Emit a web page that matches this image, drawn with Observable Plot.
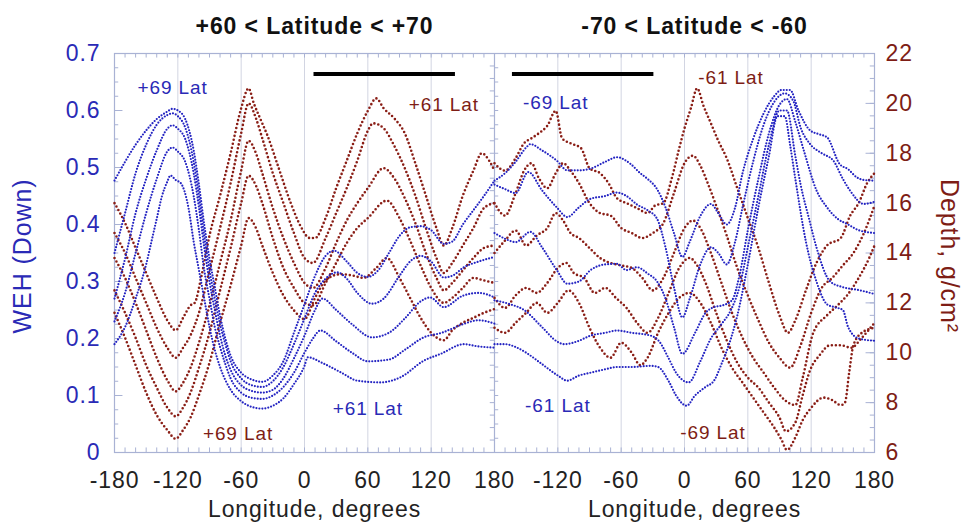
<!DOCTYPE html>
<html>
<head>
<meta charset="utf-8">
<script src="https://cdn.jsdelivr.net/npm/d3@7"></script>
<script src="https://cdn.jsdelivr.net/npm/@observablehq/plot@0.6"></script>
<style>
  html, body { margin: 0; padding: 0; background: #fff; }
  #chart svg text { letter-spacing: 0.9px; }
</style>
</head>
<body>
<div id="chart"></div>
<script>
// ---------- DATA ----------
// Left panel (+60 < Latitude < +70): WEH (blue) as [longitude, WEH]
const n_b69 = [[-180,0.477],[-170,0.51],[-160,0.54],[-150,0.565],[-140,0.585],[-130,0.598],[-125,0.603],[-120,0.600],[-113,0.585],[-105,0.53],[-100,0.47],[-95,0.40],[-90,0.34],[-85,0.29],[-80,0.24],[-75,0.20],[-70,0.17],[-60,0.14],[-50,0.128],[-40,0.124],[-30,0.135],[-20,0.16],[-10,0.21],[0,0.26],[10,0.31],[20,0.345],[28,0.354],[40,0.335],[50,0.315],[60,0.308],[70,0.32],[80,0.35],[90,0.38],[100,0.395],[110,0.397],[120,0.39],[132,0.366],[140,0.37],[150,0.40],[160,0.425],[170,0.45],[180,0.477]];
const n_b67 = [[-180,0.35],[-170,0.42],[-160,0.49],[-150,0.54],[-140,0.575],[-130,0.592],[-125,0.595],[-120,0.59],[-113,0.57],[-105,0.51],[-100,0.45],[-95,0.38],[-90,0.32],[-85,0.27],[-80,0.225],[-75,0.19],[-70,0.16],[-60,0.13],[-50,0.118],[-40,0.115],[-30,0.125],[-20,0.15],[-10,0.19],[0,0.235],[10,0.28],[20,0.305],[31,0.316],[40,0.305],[50,0.28],[64,0.261],[75,0.27],[90,0.31],[100,0.335],[110,0.345],[120,0.335],[132,0.307],[140,0.31],[151,0.325],[165,0.335],[180,0.343]];
const n_b65 = [[-180,0.27],[-170,0.34],[-160,0.42],[-150,0.48],[-140,0.53],[-130,0.568],[-125,0.574],[-120,0.568],[-113,0.55],[-105,0.49],[-100,0.43],[-95,0.36],[-90,0.30],[-85,0.25],[-80,0.205],[-75,0.17],[-70,0.145],[-60,0.118],[-50,0.108],[-40,0.105],[-30,0.11],[-20,0.13],[-10,0.165],[0,0.205],[10,0.25],[17,0.27],[30,0.25],[45,0.225],[64,0.202],[80,0.21],[95,0.235],[110,0.265],[119,0.272],[132,0.255],[150,0.275],[165,0.28],[180,0.272]];
const n_b63 = [[-180,0.23],[-170,0.28],[-160,0.35],[-150,0.42],[-140,0.48],[-130,0.528],[-125,0.535],[-120,0.528],[-113,0.51],[-105,0.45],[-100,0.39],[-95,0.32],[-90,0.27],[-85,0.22],[-80,0.185],[-75,0.155],[-70,0.13],[-60,0.105],[-50,0.096],[-40,0.094],[-30,0.10],[-20,0.115],[-10,0.14],[0,0.175],[8,0.20],[15,0.214],[30,0.195],[45,0.175],[60,0.16],[80,0.163],[95,0.18],[113,0.202],[130,0.21],[150,0.225],[165,0.232],[180,0.226]];
const n_b61 = [[-180,0.19],[-170,0.22],[-160,0.27],[-150,0.33],[-145,0.37],[-140,0.41],[-135,0.45],[-130,0.475],[-127,0.486],[-122,0.478],[-117,0.472],[-110,0.43],[-105,0.37],[-100,0.32],[-95,0.27],[-90,0.22],[-85,0.18],[-80,0.15],[-70,0.11],[-60,0.09],[-50,0.08],[-40,0.077],[-30,0.082],[-20,0.095],[-10,0.12],[0,0.152],[3,0.167],[18,0.156],[35,0.14],[50,0.126],[72,0.123],[91,0.132],[113,0.161],[129,0.173],[151,0.19],[165,0.186],[180,0.184]];

// Left panel: Depth (red) as [longitude, g/cm2]
const n_r61 = [[-180,16.0],[-170,15.2],[-160,14.2],[-150,13.2],[-140,12.2],[-130,11.3],[-122,10.9],[-115,11.4],[-108,11.9],[-104,12.0],[-98,13.0],[-90,14.7],[-80,16.3],[-70,18.0],[-60,19.8],[-53,20.6],[-48,20.0],[-40,19.2],[-35,18.7],[-26,17.6],[-13,16.0],[-4,15.1],[5,14.6],[10,14.6],[20,15.4],[30,16.6],[40,17.7],[50,18.8],[60,19.7],[68,20.2],[75,19.8],[85,19.4],[95,18.8],[105,17.6],[115,16.3],[125,15.0],[132,14.3],[140,15.0],[150,16.3],[160,17.3],[168,18.0],[175,17.7],[180,17.3]];
const n_r63 = [[-180,14.8],[-170,14.0],[-160,13.0],[-150,12.0],[-140,11.0],[-130,10.2],[-122,9.8],[-115,10.2],[-108,10.7],[-100,11.6],[-90,13.3],[-80,15.0],[-70,16.8],[-60,18.8],[-53,20.0],[-46,19.4],[-40,18.6],[-30,17.2],[-20,16.0],[-10,14.8],[0,13.8],[8,13.6],[20,14.6],[30,15.6],[40,16.6],[50,17.7],[60,18.9],[65,19.2],[75,19.0],[85,18.3],[95,17.4],[105,16.3],[115,15.0],[125,13.8],[132,13.2],[140,13.6],[150,14.3],[160,15.0],[170,15.8],[180,16.0]];
const n_r65 = [[-180,13.8],[-170,13.0],[-160,12.0],[-150,10.9],[-140,9.8],[-130,8.9],[-122,8.45],[-115,8.8],[-108,9.4],[-100,10.4],[-90,11.9],[-80,13.6],[-70,15.3],[-60,17.3],[-53,18.5],[-46,18.0],[-40,17.2],[-30,15.8],[-20,14.6],[-10,13.6],[0,12.8],[8,12.6],[20,13.4],[30,14.4],[40,15.3],[50,16.0],[60,16.6],[75,17.4],[85,17.0],[95,16.2],[105,15.2],[115,14.0],[125,13.0],[132,12.5],[140,12.8],[150,13.3],[160,13.8],[170,14.2],[180,14.3]];
const n_r67 = [[-180,12.5],[-170,11.6],[-160,10.6],[-150,9.5],[-140,8.6],[-130,7.8],[-122,7.45],[-115,7.8],[-108,8.4],[-100,9.4],[-90,10.8],[-80,12.5],[-70,14.2],[-60,16.0],[-53,17.1],[-46,16.7],[-40,16.0],[-30,14.6],[-20,13.4],[-10,12.6],[0,12.0],[8,11.9],[20,12.8],[30,13.6],[40,14.4],[50,15.0],[60,15.4],[78,16.1],[90,15.4],[100,14.5],[110,13.5],[120,12.6],[132,12.0],[140,12.2],[150,12.6],[160,13.0],[170,12.9],[180,12.8]];
const n_r69 = [[-180,11.6],[-170,10.6],[-160,9.5],[-150,8.4],[-140,7.5],[-130,6.9],[-122,6.55],[-115,6.9],[-108,7.4],[-100,8.3],[-90,9.6],[-80,11.2],[-70,12.7],[-60,14.3],[-53,15.4],[-46,15.0],[-40,14.3],[-30,13.2],[-20,12.3],[-10,11.7],[0,11.35],[10,12.2],[20,12.9],[34,13.15],[45,13.1],[56,13.0],[68,13.4],[78,13.8],[90,13.0],[100,12.2],[110,11.4],[120,10.8],[132,10.5],[140,10.9],[150,11.2],[160,11.4],[170,11.6],[180,11.75]];

// Right panel (-70 < Latitude < -60): WEH (blue)
const s_b69 = [[-180,0.477],[-170,0.49],[-160,0.51],[-150,0.535],[-146,0.541],[-135,0.53],[-121,0.512],[-111,0.495],[-100,0.495],[-89,0.498],[-75,0.51],[-64,0.518],[-51,0.506],[-42,0.49],[-35,0.48],[-26,0.462],[-18,0.43],[-10,0.385],[-2,0.343],[5,0.37],[15,0.415],[25,0.436],[32,0.42],[40,0.40],[48,0.43],[55,0.49],[65,0.55],[75,0.595],[85,0.625],[92,0.636],[100,0.636],[108,0.60],[119,0.565],[128,0.558],[135,0.553],[147,0.506],[155,0.497],[163,0.483],[170,0.478],[180,0.477]];
const s_b67 = [[-180,0.47],[-170,0.462],[-160,0.455],[-148,0.492],[-135,0.46],[-121,0.43],[-111,0.413],[-100,0.43],[-89,0.445],[-75,0.45],[-64,0.456],[-55,0.45],[-45,0.435],[-35,0.425],[-26,0.41],[-18,0.36],[-10,0.29],[-2,0.237],[5,0.27],[15,0.33],[25,0.36],[32,0.35],[40,0.33],[48,0.37],[55,0.43],[65,0.51],[75,0.575],[85,0.615],[95,0.63],[103,0.617],[110,0.57],[119,0.541],[130,0.525],[141,0.512],[150,0.48],[157,0.459],[170,0.436],[180,0.44]];
const s_b65 = [[-180,0.385],[-170,0.375],[-160,0.369],[-146,0.387],[-135,0.36],[-121,0.32],[-111,0.296],[-100,0.30],[-89,0.32],[-75,0.33],[-64,0.331],[-55,0.32],[-45,0.325],[-35,0.314],[-26,0.30],[-18,0.27],[-10,0.22],[-2,0.173],[10,0.21],[20,0.245],[28,0.255],[36,0.258],[45,0.267],[52,0.31],[60,0.39],[70,0.48],[80,0.56],[90,0.61],[97,0.62],[105,0.58],[113,0.53],[125,0.46],[135,0.43],[145,0.41],[155,0.40],[165,0.39],[180,0.385]];
const s_b63 = [[-180,0.267],[-165,0.26],[-152,0.25],[-135,0.22],[-121,0.195],[-114,0.19],[-100,0.196],[-89,0.205],[-75,0.21],[-64,0.214],[-50,0.21],[-32,0.205],[-24,0.195],[-15,0.165],[-8,0.14],[4,0.123],[15,0.16],[25,0.20],[35,0.225],[44,0.25],[52,0.29],[60,0.36],[70,0.45],[80,0.54],[90,0.60],[97,0.60],[105,0.52],[110,0.47],[118,0.41],[125,0.36],[138,0.30],[150,0.29],[165,0.285],[180,0.278]];
const s_b61 = [[-180,0.19],[-170,0.19],[-160,0.185],[-150,0.175],[-135,0.155],[-120,0.135],[-111,0.126],[-100,0.135],[-89,0.14],[-75,0.146],[-64,0.15],[-50,0.15],[-32,0.152],[-25,0.15],[-15,0.125],[-8,0.10],[2,0.082],[10,0.10],[20,0.115],[28,0.126],[35,0.155],[44,0.20],[50,0.24],[60,0.33],[70,0.43],[80,0.52],[88,0.59],[95,0.59],[100,0.54],[105,0.48],[115,0.37],[125,0.30],[135,0.26],[142,0.255],[150,0.25],[155,0.22],[165,0.20],[180,0.196]];

// Right panel: Depth (red)
const s_r61 = [[-180,17.6],[-170,17.3],[-160,17.8],[-152,18.4],[-145,18.6],[-138,18.8],[-130,19.1],[-122,19.7],[-116,18.6],[-108,18.4],[-98,18.2],[-90,17.4],[-80,17.2],[-72,16.8],[-64,16.2],[-55,16.0],[-45,15.8],[-35,15.6],[-28,15.9],[-20,16.0],[-12,17.0],[-5,18.2],[0,19.0],[6,19.8],[12,20.6],[18,19.9],[25,19.2],[32,18.5],[40,17.8],[50,16.6],[60,15.4],[70,14.2],[80,12.8],[90,11.5],[98,10.8],[105,11.3],[115,12.5],[125,13.6],[135,14.3],[148,14.6],[157,15.5],[165,16.0],[173,16.8],[180,17.2]];
const s_r63 = [[-180,16.0],[-170,15.5],[-160,16.4],[-152,17.3],[-145,17.6],[-138,17.0],[-130,16.6],[-122,17.2],[-115,17.6],[-108,17.3],[-100,16.8],[-90,16.0],[-80,15.6],[-70,15.5],[-60,15.0],[-50,14.8],[-40,14.6],[-30,14.8],[-20,15.2],[-10,16.4],[0,17.6],[8,17.9],[15,17.5],[22,16.8],[30,15.9],[40,14.7],[50,13.4],[60,12.3],[70,11.3],[80,10.4],[90,9.8],[100,9.4],[110,10.3],[120,11.6],[130,12.6],[140,13.0],[150,13.5],[160,14.0],[170,14.8],[180,15.9]];
const s_r65 = [[-180,14.0],[-170,14.5],[-160,14.9],[-150,14.3],[-140,14.7],[-130,15.0],[-122,15.6],[-115,15.3],[-108,14.8],[-100,14.6],[-90,14.2],[-80,13.8],[-70,13.6],[-60,13.5],[-50,13.4],[-40,13.0],[-30,12.5],[-20,13.0],[-10,14.0],[0,15.0],[8,15.3],[15,15.0],[25,14.0],[35,12.8],[45,11.6],[55,10.6],[65,9.8],[75,9.2],[85,8.6],[95,8.1],[105,7.9],[112,9.0],[122,10.8],[135,11.5],[145,11.9],[154,12.3],[165,13.0],[175,13.8],[180,14.3]];
const s_r67 = [[-180,12.2],[-170,11.8],[-160,12.3],[-150,12.6],[-140,12.4],[-130,12.8],[-120,13.4],[-112,13.6],[-105,13.2],[-95,13.0],[-85,12.4],[-75,12.6],[-65,12.2],[-55,11.8],[-45,11.2],[-35,10.8],[-25,11.4],[-15,12.4],[-5,13.4],[5,13.8],[12,13.5],[20,12.8],[30,11.6],[40,10.5],[50,9.6],[60,9.0],[70,8.6],[80,8.0],[90,7.4],[96,6.85],[105,7.2],[112,8.3],[119,9.3],[128,9.9],[138,10.3],[148,10.3],[158,10.2],[168,10.6],[180,11.2]];
const s_r69 = [[-180,11.0],[-170,10.8],[-160,11.2],[-150,11.6],[-140,12.0],[-130,11.6],[-120,12.0],[-110,12.5],[-100,12.0],[-90,11.0],[-80,10.2],[-70,9.8],[-60,10.4],[-50,10.0],[-42,9.5],[-35,9.8],[-25,10.8],[-15,11.6],[-5,12.2],[5,12.4],[15,12.0],[25,11.2],[35,10.2],[45,9.4],[55,8.8],[65,8.2],[75,7.6],[85,7.0],[92,6.5],[97,6.1],[105,6.6],[112,7.3],[119,7.74],[132,8.2],[140,8.1],[148,7.9],[152,8.0],[156,9.2],[160,10.3],[168,10.8],[180,11.0]];

// Ticks and labels
const lonTicks = [-180, -120, -60, 0, 60, 120, 180];
const wehTicks = [0, 0.1, 0.2, 0.3, 0.4, 0.5, 0.6, 0.7];
const depthTicks = [6, 8, 10, 12, 14, 16, 18, 20, 22];
const panelTitles = ["+60 < Latitude < +70", "-70 < Latitude < -60"];
const xLabel = "Longitude, degrees";
const yLabelLeft = "WEH (Down)";
const yLabelRight = "Depth, g/cm\u00B2";
// Black bars: [panel, lon start, lon end, WEH level]
const blackBars = [[0, 9, 143, 0.664], [1, -163, -29, 0.664]];
// Curve labels: [panel, text, lon, WEH level, kind]
const curveLabels = [
  [0, "+69 Lat", -125, 0.639, "weh"],
  [0, "+61 Lat", 132, 0.609, "depth"],
  [0, "+69 Lat", -63, 0.033, "depth"],
  [0, "+61 Lat", 60, 0.077, "weh"],
  [1, "-69 Lat", -122, 0.614, "weh"],
  [1, "-61 Lat", 44, 0.658, "depth"],
  [1, "-61 Lat", -120, 0.081, "weh"],
  [1, "-69 Lat", 27, 0.035, "depth"]
];

// ---------- BUILD ----------
const OFF = [0, 360];                 // panel offset on the shared x scale
const toW = d => (d - 6) / 16 * 0.7;   // depth -> WEH-scale position
const toD = w => (w / 0.7) * 16 + 6;

const series = [
  ["N69", 0, "weh", n_b69], ["N67", 0, "weh", n_b67], ["N65", 0, "weh", n_b65], ["N63", 0, "weh", n_b63], ["N61", 0, "weh", n_b61],
  ["NR61", 0, "depth", n_r61], ["NR63", 0, "depth", n_r63], ["NR65", 0, "depth", n_r65], ["NR67", 0, "depth", n_r67], ["NR69", 0, "depth", n_r69],
  ["S69", 1, "weh", s_b69], ["S67", 1, "weh", s_b67], ["S65", 1, "weh", s_b65], ["S63", 1, "weh", s_b63], ["S61", 1, "weh", s_b61],
  ["SR61", 1, "depth", s_r61], ["SR63", 1, "depth", s_r63], ["SR65", 1, "depth", s_r65], ["SR67", 1, "depth", s_r67], ["SR69", 1, "depth", s_r69]
];
const rows = series.flatMap(([id, p, kind, data]) =>
  data.map(([lon, v]) => ({id, kind, x: lon + OFF[p], y: kind === "weh" ? v : toW(v)})));
const blueRows = rows.filter(r => r.kind === "weh");
const redRows = rows.filter(r => r.kind === "depth");

const BLUE = "#2424c2", RED = "#8a1e16", BLUE_TXT = "#2a2ab6", RED_TXT = "#7e1d15";
const FRAME = "#a9b2d4", GRID = "#d2d5e2";
const FONT = "Liberation Sans, Arial, Helvetica, sans-serif";

const gridX = [0, 1].flatMap(p => lonTicks.filter(t => Math.abs(t) !== 180).map(t => t + OFF[p]));
const minorX = d3.range(-170, 540, 10);
const minorY = d3.range(0.025, 0.7, 0.025);
const majorY = wehTicks.slice(1, -1);
const minorD = d3.range(6.5, 22, 0.5).map(toW);
const majorD = depthTicks.slice(1, -1).map(toW);
const xTicks = [...lonTicks, ...lonTicks.slice(1).map(t => t + 360)];

const titleRows = panelTitles.map((t, i) => ({text: t, x: 9.5 + OFF[i]}));
const xLabelRows = [0, 1].map(i => ({text: xLabel, x: 9.5 + OFF[i]}));
const barRows = blackBars.map(([p, a, b, y]) => ({x1: a + OFF[p], x2: b + OFF[p], y}));
const labelRows = curveLabels.map(([p, text, lon, y, kind]) => ({text, x: lon + OFF[p], y, kind}));

const chart = Plot.plot({
  width: 968,
  height: 524,
  marginLeft: 114,
  marginRight: 94,
  marginTop: 53,
  marginBottom: 72,
  style: {fontFamily: FONT, background: "#fff"},
  x: {domain: [-180, 540]},
  y: {domain: [0, 0.7]},
  marks: [
    Plot.ruleX(gridX, {stroke: GRID, strokeWidth: 1}),
    // inward minor ticks
    Plot.ruleX(minorX, {y1: 0, y2: 0.008, stroke: FRAME}),
    Plot.ruleX(minorX, {y1: 0.7, y2: 0.692, stroke: FRAME}),
    Plot.ruleY(minorY, {x1: -180, x2: -176, stroke: FRAME}),
    Plot.ruleY(majorY, {x1: -180, x2: -172, stroke: FRAME}),
    Plot.ruleY(minorD, {x1: 540, x2: 536, stroke: FRAME}),
    Plot.ruleY(majorD, {x1: 540, x2: 532, stroke: FRAME}),
    Plot.ruleY(minorY, {x1: 180, x2: 184, stroke: FRAME}),
    Plot.ruleY(minorD, {x1: 180, x2: 176, stroke: FRAME}),
    Plot.ruleX([180], {stroke: FRAME, strokeWidth: 1.2}),
    Plot.frame({stroke: FRAME, strokeWidth: 1.2}),
    // depth series (red dotted)
    Plot.line(redRows, {x: "x", y: "y", z: "id", stroke: RED, strokeWidth: 2.6,
      strokeDasharray: "0 4", strokeLinecap: "round", curve: "monotone-x"}),
    // WEH series (blue dotted)
    Plot.line(blueRows, {x: "x", y: "y", z: "id", stroke: BLUE, strokeWidth: 2.2,
      strokeDasharray: "0 3", strokeLinecap: "round", curve: "monotone-x"}),
    // black bars
    Plot.ruleY(barRows, {x1: "x1", x2: "x2", y: "y", stroke: "#000", strokeWidth: 4}),
    // curve labels
    Plot.text(labelRows, {x: "x", y: "y", text: "text", fontSize: 19,
      fill: d => d.kind === "weh" ? BLUE_TXT : RED_TXT}),
    // titles
    Plot.text(titleRows, {x: "x", text: "text", frameAnchor: "top", dy: -36,
      fontSize: 23, fontWeight: "bold", fill: "#111"}),
    // x axis labels
    Plot.text(xLabelRows, {x: "x", text: "text", frameAnchor: "bottom", dy: 64,
      fontSize: 23, fill: "#222"}),
    // y axis labels
    Plot.text([yLabelLeft], {frameAnchor: "left", dx: -92, dy: 3, rotate: -90,
      textAnchor: "middle", fontSize: 25, fill: BLUE_TXT}),
    Plot.text([yLabelRight], {frameAnchor: "right", dx: 74, dy: 3, rotate: 90,
      textAnchor: "middle", fontSize: 25, fill: RED_TXT}),
    // axes
    Plot.axisX({ticks: xTicks, tickFormat: d => String(d > 180 ? d - 360 : d),
      tickSize: 0, tickPadding: 19, fontSize: 23, fill: "#222", label: null}),
    Plot.axisY({anchor: "left", ticks: wehTicks, tickFormat: d => d === 0 ? "0" : d.toFixed(1),
      tickSize: 0, tickPadding: 14, fontSize: 23, fill: BLUE_TXT, label: null}),
    Plot.axisY({anchor: "right", ticks: depthTicks.map(toW), tickFormat: w => String(Math.round(toD(w))),
      tickSize: 0, tickPadding: 11, fontSize: 23, fill: RED_TXT, label: null})
  ]
});
document.getElementById("chart").appendChild(chart);
</script>
</body>
</html>
